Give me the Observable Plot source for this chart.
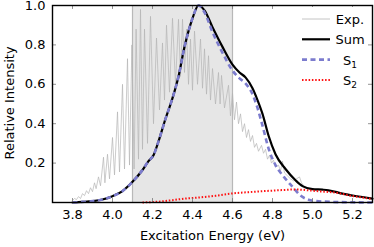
<!DOCTYPE html>
<html>
<head>
<meta charset="utf-8">
<script src="https://cdn.jsdelivr.net/npm/d3@7"></script>
<script src="https://cdn.jsdelivr.net/npm/@observablehq/plot@0.6"></script>
<style>
  html, body { margin: 0; padding: 0; background: #fff; }
  #wrap { position: relative; width: 374px; height: 247px; font-family: "DejaVu Sans", sans-serif; }
  #legend { position: absolute; left: 0; top: 0; pointer-events: none; }
</style>
</head>
<body>
<div id="wrap"></div>
<script>
// ---- data ----
const xTicks = [3.8, 4.0, 4.2, 4.4, 4.6, 4.8, 5.0, 5.2];
const yTicks = [0.2, 0.4, 0.6, 0.8, 1.0];
const xLabel = "Excitation Energy (eV)";
const yLabel = "Relative Intensity";
const shadeStart = 4.1;
const shadeEnd = 4.6;
const legendLabels = ["Exp.", "Sum", "S1", "S2"];

// experimental spectrum (peaks / troughs)
const expE = [3.80,3.81,3.82,3.83,3.84,3.85,3.86,3.87,3.88,3.89,3.90,3.91,3.918,3.93,3.94,3.955,3.962,3.975,3.985,4.0,4.01,4.025,4.035,4.05,4.06,4.075,4.085,4.097,4.108,4.118,4.13,4.14,4.15,4.16,4.175,4.19,4.205,4.22,4.235,4.25,4.26,4.27,4.285,4.30,4.315,4.33,4.34,4.35,4.36,4.37,4.38,4.39,4.40,4.41,4.425,4.44,4.45,4.46,4.47,4.48,4.49,4.50,4.515,4.53,4.538,4.545,4.56,4.58,4.59,4.60,4.61,4.62,4.63,4.64,4.65,4.66,4.67,4.68,4.69,4.70,4.71,4.72,4.73,4.745,4.755,4.765,4.775,4.785,4.795,4.805,4.815,4.83,4.84,4.85,4.86,4.875,4.89,4.905,4.92,4.935,4.945,4.96,4.98,5.0,5.02];
const expI = [0.01,0.02,0.015,0.03,0.02,0.045,0.035,0.06,0.045,0.075,0.055,0.10,0.07,0.13,0.085,0.23,0.10,0.245,0.12,0.33,0.14,0.46,0.155,0.60,0.17,0.73,0.19,0.80,0.17,0.88,0.22,0.98,0.27,0.88,0.30,0.945,0.40,0.835,0.47,0.81,0.52,0.90,0.56,0.935,0.60,0.93,0.64,0.93,0.66,0.88,0.60,0.83,0.57,0.87,0.60,0.83,0.58,0.78,0.55,0.745,0.52,0.68,0.50,0.66,0.50,0.645,0.48,0.595,0.44,0.555,0.42,0.51,0.40,0.45,0.36,0.40,0.33,0.37,0.31,0.34,0.28,0.30,0.26,0.29,0.25,0.27,0.22,0.24,0.20,0.215,0.18,0.19,0.16,0.21,0.15,0.135,0.12,0.11,0.12,0.13,0.10,0.08,0.07,0.065,0.06];

// Sum of states
const sumE = [3.80,3.85,3.90,3.95,4.00,4.05,4.10,4.15,4.18,4.205,4.23,4.265,4.30,4.33,4.36,4.38,4.40,4.43,4.46,4.50,4.55,4.60,4.635,4.665,4.70,4.725,4.75,4.78,4.815,4.865,4.915,4.95,5.0,5.05,5.08,5.15,5.215,5.3];
const sumI = [0.0,0.003,0.007,0.015,0.032,0.058,0.105,0.165,0.21,0.24,0.31,0.425,0.53,0.64,0.79,0.87,0.935,1.0,0.975,0.89,0.79,0.70,0.66,0.635,0.58,0.52,0.45,0.34,0.245,0.17,0.113,0.083,0.068,0.065,0.062,0.045,0.033,0.02];

// S1
const s1E = [3.80,3.85,3.90,3.95,4.00,4.05,4.10,4.15,4.18,4.205,4.23,4.265,4.30,4.33,4.36,4.38,4.40,4.43,4.46,4.50,4.55,4.60,4.635,4.665,4.70,4.725,4.75,4.78,4.815,4.857,4.90,4.94,4.98,5.02,5.1,5.2,5.3];
const s1I = [0.0,0.003,0.007,0.015,0.032,0.058,0.105,0.165,0.21,0.24,0.31,0.425,0.53,0.64,0.79,0.87,0.935,1.0,0.965,0.865,0.76,0.67,0.63,0.605,0.55,0.48,0.39,0.275,0.19,0.13,0.08,0.035,0.014,0.007,0.003,0.001,0.0];

// S2
const s2E = [4.15,4.25,4.30,4.365,4.415,4.515,4.60,4.70,4.83,4.915,5.03,5.115,5.2,5.3];
const s2I = [0.0,0.006,0.012,0.02,0.024,0.034,0.046,0.054,0.062,0.066,0.057,0.05,0.033,0.018];

// ---- tables ----
const expData = expE.map((e, i) => ({e, v: expI[i]}));
const sumData = sumE.map((e, i) => ({e, v: sumI[i]}));
const s1Data = s1E.map((e, i) => ({e, v: s1I[i]}));
const s2Data = s2E.map((e, i) => ({e, v: s2I[i]}));

const font = "DejaVu Sans";
const fs = 13;
const tickColor = "#777";
const expColor = "#b5b5b5";
const s1Color = "#7c7cce";
const s2Color = "#ff1010";

const chart = Plot.plot({
  width: 374,
  height: 247,
  marginLeft: 52,
  marginRight: 2,
  marginTop: 5,
  marginBottom: 45,
  style: {fontFamily: font, fontSize: fs + "px", background: "white", color: "black"},
  x: {domain: [3.7, 5.3]},
  y: {domain: [0, 1]},
  marks: [
    Plot.rect([{a: shadeStart, b: shadeEnd}], {x1: "a", x2: "b", y1: 0, y2: 1, fill: "#e6e6e6"}),
    Plot.ruleX([shadeStart, shadeEnd], {stroke: "#b8b8b8", strokeWidth: 1.2}),
    Plot.line(expData, {x: "e", y: "v", stroke: expColor, strokeWidth: 0.7}),
    Plot.line(sumData, {x: "e", y: "v", stroke: "black", strokeWidth: 2.2, curve: "monotone-x"}),
    Plot.line(s1Data, {x: "e", y: "v", stroke: s1Color, strokeWidth: 2.6, strokeDasharray: "5,3.5", strokeLinecap: "butt", curve: "monotone-x"}),
    Plot.line(s2Data, {x: "e", y: "v", stroke: s2Color, strokeWidth: 2, strokeDasharray: "1.5,1.8", strokeLinecap: "butt", curve: "monotone-x"}),
    // inner ticks on all four sides
    Plot.ruleX(xTicks, {y1: 0, y2: 0.02, stroke: tickColor, strokeWidth: 0.8}),
    Plot.ruleX(xTicks, {y1: 0.98, y2: 1, stroke: tickColor, strokeWidth: 0.8}),
    Plot.ruleY(yTicks, {x1: 3.7, x2: 3.72, stroke: tickColor, strokeWidth: 0.8}),
    Plot.ruleY(yTicks, {x1: 5.28, x2: 5.3, stroke: tickColor, strokeWidth: 0.8}),
    Plot.axisX({ticks: xTicks, tickSize: 0, tickPadding: 7, tickFormat: d => d.toFixed(1), label: null, fontSize: fs}),
    Plot.axisY({ticks: yTicks, tickSize: 0, tickPadding: 7, tickFormat: d => d.toFixed(1), label: null, fontSize: fs}),
    Plot.text([xLabel], {frameAnchor: "bottom", dy: 37, fontSize: fs, fill: "black"}),
    Plot.frame({stroke: "black", strokeWidth: 1.4})
  ]
});

const wrap = document.getElementById("wrap");
wrap.appendChild(chart);

// ---- overlay: y label and legend (inside the plot, top right) ----
const ns = "http://www.w3.org/2000/svg";
const leg = document.createElementNS(ns, "svg");
leg.setAttribute("id", "legend");
leg.setAttribute("width", 374);
leg.setAttribute("height", 247);

const yl = document.createElementNS(ns, "text");
yl.setAttribute("transform", "translate(9,103) rotate(-90)");
yl.setAttribute("text-anchor", "middle");
yl.setAttribute("dominant-baseline", "central");
yl.setAttribute("font-family", font);
yl.setAttribute("font-size", fs);
yl.textContent = yLabel;
leg.appendChild(yl);

const styles = [
  {stroke: expColor, width: 0.8, dash: null},
  {stroke: "black", width: 2.2, dash: null},
  {stroke: s1Color, width: 2.6, dash: "5,3.5"},
  {stroke: s2Color, width: 2, dash: "1.5,1.8"}
];
const bg = document.createElementNS(ns, "rect");
bg.setAttribute("x", 297); bg.setAttribute("y", 7);
bg.setAttribute("width", 68); bg.setAttribute("height", 86);
bg.setAttribute("fill", "white");
leg.appendChild(bg);
legendLabels.forEach((lab, i) => {
  const yy = 19 + i * 20.3;
  const ln = document.createElementNS(ns, "line");
  ln.setAttribute("x1", 302); ln.setAttribute("x2", 330);
  ln.setAttribute("y1", yy); ln.setAttribute("y2", yy);
  ln.setAttribute("stroke", styles[i].stroke);
  ln.setAttribute("stroke-width", styles[i].width);
  if (styles[i].dash) ln.setAttribute("stroke-dasharray", styles[i].dash);
  leg.appendChild(ln);
  const t = document.createElementNS(ns, "text");
  t.setAttribute("x", 350);
  t.setAttribute("y", yy + 5);
  t.setAttribute("text-anchor", "middle");
  t.setAttribute("font-family", font);
  t.setAttribute("font-size", fs);
  const m = lab.match(/^S(\d)$/);
  if (m) {
    const a = document.createElementNS(ns, "tspan");
    a.textContent = "S";
    const b = document.createElementNS(ns, "tspan");
    b.setAttribute("font-size", 9);
    b.setAttribute("dy", 3);
    b.textContent = m[1];
    t.appendChild(a); t.appendChild(b);
  } else {
    t.textContent = lab;
  }
  leg.appendChild(t);
});
wrap.appendChild(leg);
</script>
</body>
</html>
